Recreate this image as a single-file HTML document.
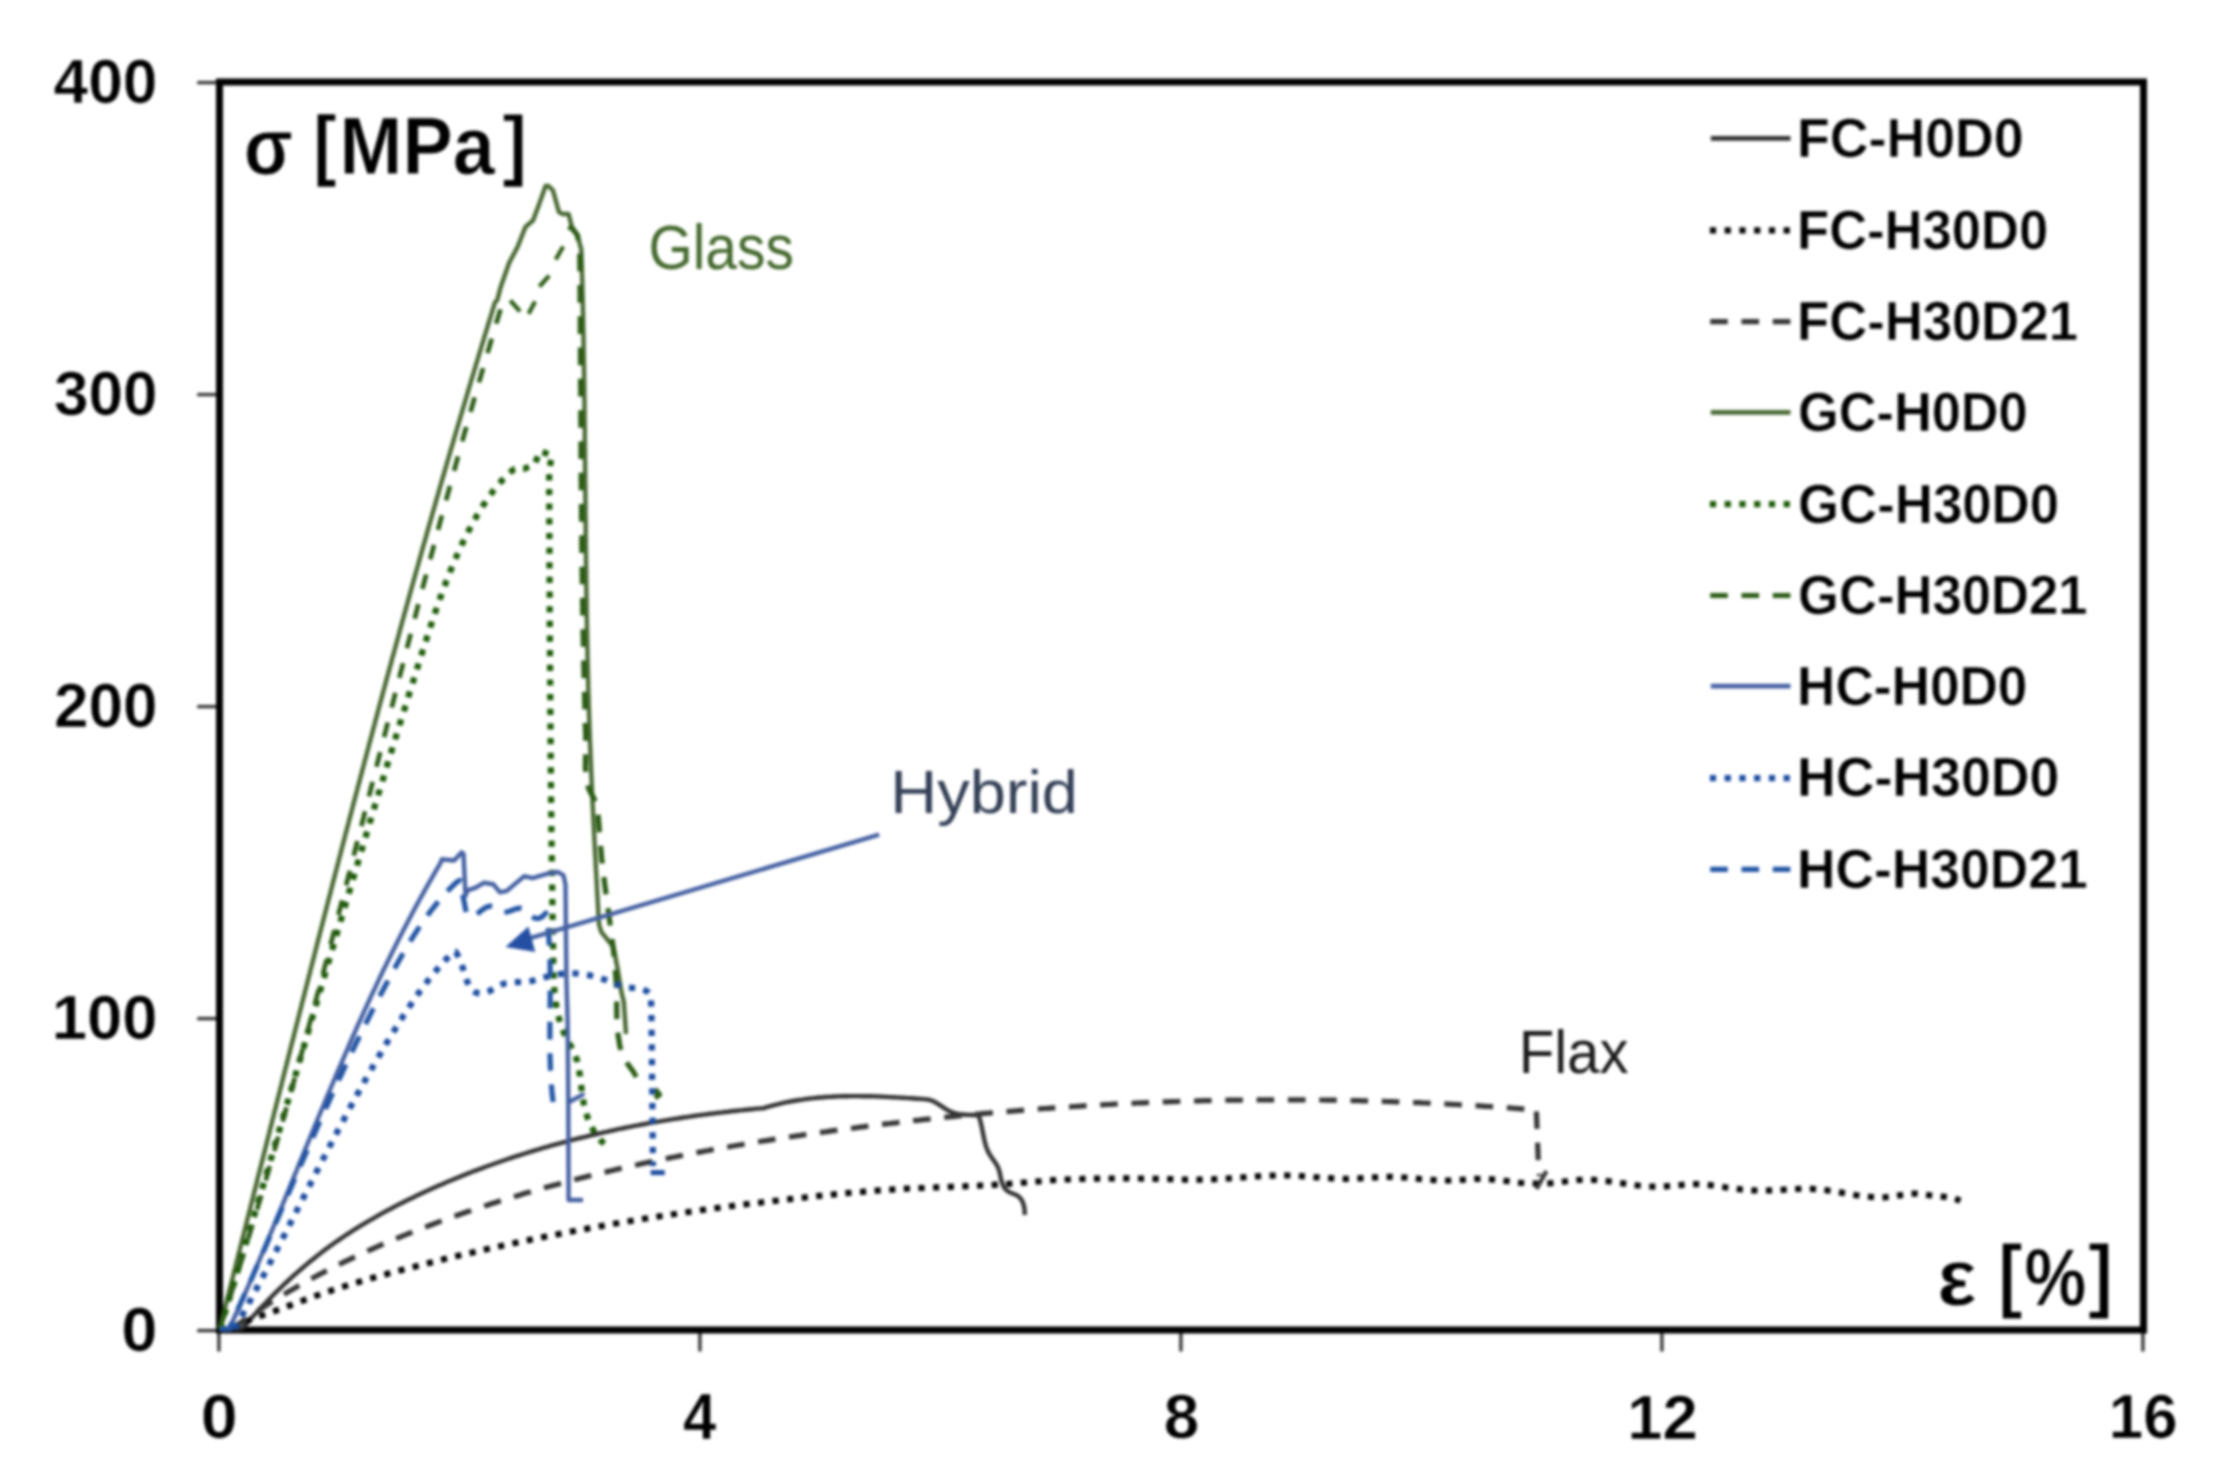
<!DOCTYPE html>
<html lang="en"><head><meta charset="utf-8"><title>Stress-strain curves</title>
<style>
html,body{margin:0;padding:0;background:#fff;}
body{width:2220px;height:1482px;overflow:hidden;}
svg{display:block;filter:blur(1.7px);}
</style></head><body>
<svg width="2220" height="1482" viewBox="0 0 2220 1482">
<rect width="2220" height="1482" fill="#fff"/>
<g stroke="#000" fill="none">
<line x1="197.2" y1="1330.6" x2="219.5" y2="1330.6" stroke-width="3.4" stroke="#3a3a3a"/>
<line x1="197.2" y1="1018.6" x2="219.5" y2="1018.6" stroke-width="3.4" stroke="#3a3a3a"/>
<line x1="197.2" y1="706.6" x2="219.5" y2="706.6" stroke-width="3.4" stroke="#3a3a3a"/>
<line x1="197.2" y1="394.6" x2="219.5" y2="394.6" stroke-width="3.4" stroke="#3a3a3a"/>
<line x1="197.2" y1="82.6" x2="219.5" y2="82.6" stroke-width="3.4" stroke="#3a3a3a"/>
<line x1="218.9" y1="1330.0" x2="218.9" y2="1351.5" stroke-width="3.4" stroke="#3a3a3a"/>
<line x1="699.9" y1="1330.0" x2="699.9" y2="1351.5" stroke-width="3.4" stroke="#3a3a3a"/>
<line x1="1180.9" y1="1330.0" x2="1180.9" y2="1351.5" stroke-width="3.4" stroke="#3a3a3a"/>
<line x1="1661.9" y1="1330.0" x2="1661.9" y2="1351.5" stroke-width="3.4" stroke="#3a3a3a"/>
<line x1="2142.9" y1="1330.0" x2="2142.9" y2="1351.5" stroke-width="3.4" stroke="#3a3a3a"/>
<rect x="219.5" y="82.0" width="1924.0" height="1248.0" stroke-width="7.0"/>
</g>
<g fill="none" stroke-linejoin="round" stroke-linecap="butt">
<path d="M219.6,1329.0L240.0,1329.0L242.9,1327.8L244.9,1325.5L246.9,1323.2L248.9,1321.0L250.9,1318.7L252.9,1316.4L255.0,1314.2L257.0,1312.0L259.1,1309.7L261.1,1307.5L263.2,1305.3L265.3,1303.2L267.4,1301.0L269.5,1298.8L271.6,1296.7L273.7,1294.5L275.8,1292.4L278.0,1290.3L280.2,1288.2L282.3,1286.1L284.5,1284.0L286.7,1282.0L288.9,1280.0L291.1,1277.9L293.3,1275.9L295.6,1273.9L297.8,1271.9L300.1,1270.0L302.4,1268.0L304.6,1266.1L306.9,1264.1L309.2,1262.2L311.6,1260.3L313.9,1258.5L316.2,1256.6L318.6,1254.8L321.0,1252.9L323.3,1251.1L325.7,1249.3L328.1,1247.5L330.5,1245.8L333.0,1244.0L335.4,1242.3L337.9,1240.6L340.3,1238.9L342.8,1237.2L345.3,1235.5L347.8,1233.9L350.3,1232.3L352.8,1230.6L355.3,1229.0L357.9,1227.5L360.4,1225.9L363.0,1224.3L365.5,1222.8L368.1,1221.3L370.7,1219.8L373.3,1218.3L375.9,1216.8L378.5,1215.3L381.1,1213.9L383.8,1212.4L386.4,1211.0L389.0,1209.6L391.7,1208.2L394.4,1206.8L397.0,1205.4L399.7,1204.0L402.4,1202.7L405.1,1201.3L407.8,1200.0L410.4,1198.7L413.2,1197.4L415.9,1196.1L418.6,1194.8L421.3,1193.5L424.0,1192.2L426.7,1191.0L429.5,1189.7L432.2,1188.5L435.0,1187.3L437.7,1186.1L440.5,1184.9L443.2,1183.7L446.0,1182.5L448.7,1181.3L451.5,1180.2L454.3,1179.0L457.1,1177.9L459.9,1176.7L462.7,1175.6L465.4,1174.5L468.2,1173.4L471.0,1172.3L473.8,1171.2L476.7,1170.2L479.5,1169.1L482.3,1168.1L485.1,1167.0L487.9,1166.0L490.8,1165.0L493.6,1164.0L496.4,1163.0L499.3,1162.0L502.1,1161.0L505.0,1160.0L507.8,1159.0L510.7,1158.1L513.5,1157.1L516.4,1156.2L519.3,1155.3L522.1,1154.4L525.0,1153.5L527.9,1152.6L530.8,1151.7L533.6,1150.8L536.5,1149.9L539.4,1149.1L542.3,1148.2L545.2,1147.4L548.1,1146.6L551.0,1145.7L553.9,1144.9L556.8,1144.1L559.7,1143.3L562.6,1142.5L565.5,1141.8L568.4,1141.0L571.3,1140.2L574.3,1139.5L577.2,1138.7L580.1,1138.0L583.0,1137.3L586.0,1136.6L588.9,1135.8L591.8,1135.1L594.8,1134.5L597.7,1133.8L600.6,1133.1L603.6,1132.4L606.5,1131.8L609.5,1131.1L612.4,1130.5L615.3,1129.9L618.3,1129.2L621.2,1128.6L624.2,1128.0L627.1,1127.4L630.1,1126.8L633.1,1126.2L636.0,1125.7L639.0,1125.1L641.9,1124.5L644.9,1124.0L647.8,1123.4L650.8,1122.9L653.8,1122.4L656.7,1121.9L659.7,1121.4L662.7,1120.9L665.6,1120.4L668.6,1119.9L671.6,1119.4L674.5,1118.9L677.5,1118.5L680.5,1118.0L683.4,1117.5L686.4,1117.1L689.4,1116.7L692.4,1116.2L695.3,1115.8L698.3,1115.4L701.3,1115.0L704.2,1114.6L707.2,1114.2L710.2,1113.8L713.2,1113.5L716.1,1113.1L719.1,1112.7L722.1,1112.4L725.0,1112.0L728.0,1111.7L731.0,1111.3L734.0,1111.0L736.9,1110.7L739.9,1110.4L742.9,1110.1L745.8,1109.8L748.8,1109.5L751.8,1109.2L754.7,1108.9L757.7,1108.6L760.7,1108.4L763.8,1108.2L766.7,1107.2L769.6,1106.3L772.5,1105.5L775.5,1104.8L778.4,1104.1L781.4,1103.4L784.3,1102.7L787.3,1102.1L790.2,1101.5L793.2,1101.0L796.2,1100.5L799.2,1100.0L802.2,1099.6L805.2,1099.1L808.2,1098.8L811.2,1098.4L814.2,1098.1L817.2,1097.8L820.2,1097.5L823.2,1097.3L826.2,1097.0L829.2,1096.9L832.3,1096.7L835.3,1096.5L838.3,1096.4L841.4,1096.3L844.4,1096.2L847.4,1096.2L850.5,1096.1L853.5,1096.1L856.5,1096.1L859.6,1096.1L862.6,1096.2L865.7,1096.2L868.7,1096.3L871.7,1096.3L874.8,1096.4L877.8,1096.5L880.9,1096.6L883.9,1096.8L886.9,1096.9L890.0,1097.1L893.0,1097.2L896.0,1097.4L899.1,1097.6L902.1,1097.7L905.1,1097.9L908.1,1098.1L911.1,1098.3L914.2,1098.5L917.2,1098.7L920.2,1098.9L923.2,1099.1L926.2,1099.4L929.2,1099.7L932.1,1100.8L934.9,1102.1L937.6,1103.7L940.2,1105.4L942.9,1107.1L945.5,1108.8L948.1,1110.4L950.9,1111.7L953.7,1112.8L956.7,1113.6L959.7,1114.2L962.8,1114.5L965.9,1114.8L969.1,1114.9L972.2,1115.0L975.3,1115.0L978.4,1115.2L979.4,1118.0L980.3,1120.8L981.0,1123.7L981.7,1126.7L982.3,1129.7L982.9,1132.8L983.5,1135.8L984.1,1138.8L984.8,1141.8L985.6,1144.8L986.5,1147.7L987.6,1150.5L988.9,1153.2L990.4,1155.7L992.2,1158.2L993.9,1160.7L995.7,1163.2L997.2,1165.8L998.5,1168.5L999.4,1171.4L1000.1,1174.4L1000.7,1177.5L1001.4,1180.5L1002.3,1183.4L1003.5,1186.2L1005.1,1188.7L1007.1,1190.7L1009.6,1192.3L1012.4,1193.5L1015.2,1194.5L1017.8,1195.9L1020.0,1197.7L1021.7,1200.1L1023.0,1202.8L1023.9,1205.8L1024.5,1208.9L1024.7,1212.1L1024.7,1215.1" stroke="#313131" stroke-width="4.4"/>
<path d="M233.0,1329.0L235.5,1327.3L238.1,1325.7L240.7,1324.2L243.4,1322.8L246.1,1321.6L248.8,1320.3L251.6,1319.2L254.4,1318.1L257.2,1317.1L260.0,1316.1L262.9,1315.1L265.7,1314.1L268.6,1313.2L271.4,1312.2L274.3,1311.2L277.1,1310.2L279.9,1309.2L282.7,1308.1L285.6,1307.1L288.4,1306.0L291.2,1305.0L294.0,1303.9L296.8,1302.9L299.6,1301.8L302.4,1300.8L305.2,1299.7L308.1,1298.7L310.9,1297.7L313.7,1296.6L316.5,1295.6L319.4,1294.6L322.2,1293.7L325.1,1292.7L327.9,1291.7L330.7,1290.8L333.6,1289.8L336.5,1288.9L339.3,1287.9L342.2,1287.0L345.0,1286.1L347.9,1285.2L350.8,1284.3L353.6,1283.4L356.5,1282.6L359.4,1281.7L362.3,1280.9L365.2,1280.0L368.1,1279.2L370.9,1278.4L373.8,1277.6L376.7,1276.8L379.6,1276.0L382.5,1275.2L385.4,1274.4L388.3,1273.6L391.2,1272.8L394.1,1272.0L397.0,1271.3L399.9,1270.5L402.8,1269.7L405.7,1269.0L408.6,1268.2L411.5,1267.4L414.5,1266.7L417.4,1265.9L420.3,1265.2L423.2,1264.4L426.1,1263.7L429.0,1263.0L431.9,1262.2L434.8,1261.5L437.8,1260.8L440.7,1260.1L443.6,1259.3L446.5,1258.6L449.4,1257.9L452.3,1257.2L455.3,1256.5L458.2,1255.8L461.1,1255.1L464.0,1254.4L467.0,1253.7L469.9,1253.1L472.8,1252.4L475.7,1251.7L478.7,1251.0L481.6,1250.4L484.5,1249.7L487.5,1249.0L490.4,1248.4L493.3,1247.7L496.2,1247.1L499.2,1246.4L502.1,1245.8L505.1,1245.1L508.0,1244.5L510.9,1243.8L513.9,1243.2L516.8,1242.6L519.7,1242.0L522.7,1241.3L525.6,1240.7L528.6,1240.1L531.5,1239.5L534.4,1238.9L537.4,1238.3L540.3,1237.7L543.3,1237.1L546.2,1236.5L549.2,1235.9L552.1,1235.3L555.1,1234.7L558.0,1234.2L561.0,1233.6L563.9,1233.0L566.9,1232.4L569.8,1231.9L572.8,1231.3L575.7,1230.8L578.7,1230.2L581.6,1229.6L584.6,1229.1L587.5,1228.6L590.5,1228.0L593.4,1227.5L596.4,1226.9L599.4,1226.4L602.3,1225.9L605.3,1225.4L608.2,1224.8L611.2,1224.3L614.1,1223.8L617.1,1223.3L620.1,1222.8L623.0,1222.3L626.0,1221.8L629.0,1221.3L631.9,1220.8L634.9,1220.3L637.8,1219.8L640.8,1219.3L643.8,1218.8L646.7,1218.4L649.7,1217.9L652.7,1217.4L655.6,1217.0L658.6,1216.5L661.6,1216.0L664.6,1215.6L667.5,1215.1L670.5,1214.7L673.5,1214.2L676.4,1213.8L679.4,1213.3L682.4,1212.9L685.3,1212.5L688.3,1212.0L691.3,1211.6L694.3,1211.2L697.2,1210.8L700.2,1210.3L703.2,1209.9L706.2,1209.5L709.1,1209.1L712.1,1208.7L715.1,1208.3L718.1,1207.9L721.0,1207.5L724.0,1207.1L727.0,1206.7L730.0,1206.3L733.0,1205.9L735.9,1205.5L738.9,1205.2L741.9,1204.8L744.9,1204.4L747.9,1204.0L750.8,1203.7L753.8,1203.3L756.8,1202.9L759.8,1202.6L762.8,1202.2L765.8,1201.9L768.7,1201.5L771.7,1201.2L774.7,1200.8L777.7,1200.5L780.7,1200.1L783.7,1199.8L786.6,1199.4L789.6,1199.1L792.6,1198.8L795.6,1198.5L798.6,1198.1L801.6,1197.8L804.6,1197.5L807.5,1197.2L810.5,1196.8L813.5,1196.5L816.5,1196.2L819.5,1195.9L822.5,1195.6L825.5,1195.3L828.5,1195.0L831.5,1194.7L834.4,1194.4L837.4,1194.1L840.4,1193.8L843.4,1193.5L846.4,1193.2L849.4,1192.9L852.4,1192.7L855.4,1192.4L858.4,1192.1L861.4,1191.9L864.4,1191.6L867.4,1191.3L870.4,1191.1L873.3,1190.9L876.3,1190.6L879.3,1190.4L882.3,1190.2L885.3,1190.0L888.3,1189.8L891.3,1189.6L894.3,1189.4L897.3,1189.2L900.3,1189.0L903.3,1188.9L906.3,1188.7L909.3,1188.5L912.3,1188.4L915.3,1188.3L918.3,1188.1L921.3,1188.0L924.3,1187.9L927.3,1187.7L930.3,1187.6L933.3,1187.5L936.3,1187.4L939.3,1187.3L942.3,1187.2L945.3,1187.1L948.3,1186.9L951.3,1186.8L954.4,1186.7L957.4,1186.6L960.4,1186.5L963.4,1186.4L966.4,1186.2L969.4,1186.1L972.4,1186.0L975.4,1185.8L978.4,1185.7L981.4,1185.5L984.4,1185.4L987.4,1185.2L990.4,1185.1L993.4,1184.9L996.4,1184.7L999.4,1184.5L1002.4,1184.3L1005.4,1184.1L1008.3,1183.9L1011.3,1183.6L1014.3,1183.4L1017.3,1183.1L1020.3,1182.9L1023.3,1182.6L1026.3,1182.4L1029.3,1182.1L1032.3,1181.8L1035.3,1181.6L1038.3,1181.3L1041.3,1181.1L1044.3,1180.8L1047.3,1180.6L1050.3,1180.4L1053.3,1180.2L1056.3,1180.0L1059.3,1179.8L1062.3,1179.7L1065.3,1179.5L1068.3,1179.4L1071.3,1179.2L1074.3,1179.1L1077.3,1179.0L1080.3,1179.0L1083.3,1178.9L1086.3,1178.8L1089.3,1178.7L1092.3,1178.7L1095.3,1178.6L1098.3,1178.6L1101.3,1178.6L1104.3,1178.5L1107.3,1178.5L1110.3,1178.5L1113.3,1178.5L1116.3,1178.4L1119.3,1178.4L1122.3,1178.4L1125.3,1178.4L1128.3,1178.4L1131.3,1178.5L1134.4,1178.5L1137.4,1178.5L1140.4,1178.5L1143.4,1178.6L1146.4,1178.6L1149.4,1178.7L1152.4,1178.7L1155.4,1178.8L1158.4,1178.8L1161.4,1178.9L1164.4,1179.0L1167.4,1179.0L1170.4,1179.1L1173.4,1179.2L1176.4,1179.3L1179.4,1179.4L1182.4,1179.5L1185.4,1179.6L1188.4,1179.6L1191.4,1179.7L1194.4,1179.7L1197.4,1179.7L1200.4,1179.7L1203.4,1179.7L1206.4,1179.6L1209.4,1179.5L1212.4,1179.4L1215.4,1179.2L1218.4,1179.1L1221.4,1178.9L1224.4,1178.7L1227.4,1178.5L1230.4,1178.3L1233.4,1178.1L1236.4,1177.8L1239.4,1177.6L1242.4,1177.4L1245.4,1177.2L1248.4,1176.9L1251.4,1176.7L1254.4,1176.5L1257.4,1176.3L1260.4,1176.1L1263.4,1175.9L1266.4,1175.8L1269.4,1175.7L1272.4,1175.6L1275.4,1175.5L1278.4,1175.4L1281.4,1175.4L1284.4,1175.4L1287.4,1175.5L1290.4,1175.5L1293.4,1175.6L1296.4,1175.8L1299.4,1176.0L1302.4,1176.2L1305.4,1176.4L1308.4,1176.6L1311.4,1176.8L1314.4,1177.1L1317.4,1177.3L1320.4,1177.6L1323.4,1177.8L1326.4,1178.0L1329.4,1178.2L1332.4,1178.4L1335.4,1178.5L1338.4,1178.6L1341.4,1178.7L1344.4,1178.8L1347.4,1178.8L1350.4,1178.7L1353.4,1178.6L1356.4,1178.5L1359.4,1178.4L1362.5,1178.2L1365.5,1178.0L1368.5,1177.8L1371.5,1177.6L1374.5,1177.4L1377.5,1177.3L1380.5,1177.1L1383.5,1177.0L1386.5,1176.9L1389.5,1176.9L1392.5,1176.9L1395.5,1177.0L1398.5,1177.1L1401.5,1177.3L1404.5,1177.5L1407.5,1177.7L1410.5,1178.0L1413.5,1178.3L1416.4,1178.6L1419.4,1178.9L1422.4,1179.1L1425.4,1179.4L1428.4,1179.7L1431.4,1179.9L1434.4,1180.1L1437.4,1180.3L1440.4,1180.4L1443.4,1180.5L1446.4,1180.5L1449.4,1180.5L1452.4,1180.4L1455.4,1180.3L1458.4,1180.0L1461.4,1179.8L1464.4,1179.6L1467.4,1179.3L1470.4,1179.1L1473.4,1179.0L1476.4,1178.8L1479.4,1178.8L1482.4,1178.8L1485.4,1178.9L1488.4,1179.1L1491.4,1179.3L1494.4,1179.6L1497.4,1179.9L1500.3,1180.3L1503.3,1180.6L1506.3,1181.0L1509.3,1181.4L1512.3,1181.8L1515.3,1182.1L1518.3,1182.5L1521.3,1182.8L1524.3,1183.0L1527.3,1183.2L1530.3,1183.4L1533.3,1183.5L1536.3,1183.6L1539.3,1183.6L1542.3,1183.6L1545.3,1183.5L1548.3,1183.3L1551.3,1183.1L1554.3,1182.8L1557.3,1182.5L1560.3,1182.1L1563.3,1181.7L1566.3,1181.3L1569.3,1180.9L1572.3,1180.6L1575.2,1180.3L1578.2,1180.0L1581.2,1179.8L1584.2,1179.7L1587.2,1179.6L1590.2,1179.7L1593.2,1179.8L1596.1,1180.0L1599.1,1180.2L1602.1,1180.5L1605.1,1180.9L1608.1,1181.2L1611.1,1181.6L1614.1,1182.1L1617.1,1182.5L1620.1,1183.0L1623.1,1183.4L1626.1,1183.9L1629.0,1184.3L1632.0,1184.7L1635.0,1185.1L1638.0,1185.5L1641.0,1185.8L1644.0,1186.1L1647.0,1186.3L1650.0,1186.5L1653.0,1186.6L1656.0,1186.6L1659.0,1186.6L1662.0,1186.5L1665.0,1186.3L1668.0,1186.1L1671.0,1185.9L1674.0,1185.6L1677.0,1185.3L1680.0,1185.1L1683.0,1184.8L1686.0,1184.6L1689.0,1184.4L1692.0,1184.3L1695.0,1184.2L1698.0,1184.2L1701.0,1184.3L1704.0,1184.5L1706.9,1184.8L1709.9,1185.1L1712.9,1185.5L1715.9,1185.9L1718.9,1186.3L1721.9,1186.7L1724.8,1187.2L1727.8,1187.7L1730.8,1188.1L1733.8,1188.5L1736.8,1188.9L1739.8,1189.2L1742.8,1189.6L1745.7,1189.8L1748.7,1190.1L1751.7,1190.3L1754.7,1190.4L1757.7,1190.5L1760.7,1190.6L1763.7,1190.6L1766.7,1190.5L1769.7,1190.4L1772.7,1190.3L1775.7,1190.1L1778.7,1190.0L1781.7,1189.8L1784.7,1189.6L1787.7,1189.5L1790.7,1189.3L1793.7,1189.2L1796.7,1189.0L1799.7,1188.9L1802.7,1188.9L1805.7,1188.8L1808.7,1188.9L1811.7,1188.9L1814.6,1189.1L1817.6,1189.3L1820.6,1189.5L1823.6,1189.9L1826.6,1190.2L1829.6,1190.7L1832.6,1191.1L1835.6,1191.6L1838.6,1192.1L1841.5,1192.6L1844.5,1193.2L1847.5,1193.7L1850.5,1194.2L1853.5,1194.7L1856.4,1195.2L1859.4,1195.6L1862.4,1196.1L1865.4,1196.4L1868.4,1196.7L1871.3,1197.0L1874.3,1197.2L1877.3,1197.3L1880.3,1197.4L1883.3,1197.3L1886.2,1197.2L1889.2,1196.9L1892.2,1196.6L1895.2,1196.1L1898.1,1195.6L1901.1,1195.1L1904.1,1194.7L1907.1,1194.2L1910.0,1193.9L1913.0,1193.7L1916.0,1193.6L1919.0,1193.8L1922.0,1194.1L1924.9,1194.5L1927.9,1195.0L1930.9,1195.5L1933.9,1195.9L1936.9,1196.2L1939.9,1196.5L1942.9,1196.7L1945.9,1197.0L1948.8,1197.4L1951.7,1197.9L1954.6,1198.6L1957.5,1199.6L1960.3,1200.9" stroke="#050505" stroke-width="6.2" stroke-dasharray="6.2 8.45"/>
<path d="M232.0,1329.0L234.2,1327.2L236.7,1325.4L239.2,1323.7L241.6,1321.9L244.1,1320.2L246.6,1318.4L249.1,1316.7L251.6,1315.0L254.1,1313.3L256.6,1311.6L259.1,1310.0L261.6,1308.3L264.1,1306.7L266.7,1305.1L269.2,1303.4L271.8,1301.8L274.3,1300.2L276.9,1298.7L279.4,1297.1L282.0,1295.5L284.6,1294.0L287.2,1292.5L289.8,1290.9L292.4,1289.4L295.0,1287.9L297.6,1286.4L300.2,1285.0L302.8,1283.5L305.4,1282.0L308.0,1280.6L310.7,1279.1L313.3,1277.7L316.0,1276.3L318.6,1274.9L321.3,1273.5L323.9,1272.1L326.6,1270.7L329.2,1269.4L331.9,1268.0L334.6,1266.7L337.3,1265.3L340.0,1264.0L342.7,1262.7L345.4,1261.4L348.0,1260.1L350.8,1258.8L353.5,1257.5L356.2,1256.3L358.9,1255.0L361.6,1253.7L364.3,1252.5L367.1,1251.3L369.8,1250.0L372.5,1248.8L375.3,1247.6L378.0,1246.4L380.7,1245.2L383.5,1244.0L386.2,1242.9L389.0,1241.7L391.8,1240.5L394.5,1239.4L397.3,1238.2L400.0,1237.1L402.8,1235.9L405.6,1234.8L408.4,1233.7L411.1,1232.6L413.9,1231.5L416.7,1230.4L419.5,1229.3L422.3,1228.2L425.1,1227.1L427.9,1226.1L430.7,1225.0L433.5,1224.0L436.3,1222.9L439.1,1221.9L441.9,1220.8L444.7,1219.8L447.5,1218.8L450.3,1217.8L453.1,1216.8L455.9,1215.8L458.8,1214.8L461.6,1213.8L464.4,1212.8L467.2,1211.8L470.1,1210.9L472.9,1209.9L475.7,1208.9L478.6,1208.0L481.4,1207.0L484.2,1206.1L487.1,1205.2L489.9,1204.3L492.8,1203.3L495.6,1202.4L498.5,1201.5L501.3,1200.6L504.2,1199.7L507.1,1198.8L509.9,1198.0L512.8,1197.1L515.6,1196.2L518.5,1195.4L521.4,1194.5L524.2,1193.6L527.1,1192.8L530.0,1192.0L532.9,1191.1L535.7,1190.3L538.6,1189.5L541.5,1188.7L544.4,1187.8L547.3,1187.0L550.2,1186.2L553.0,1185.4L555.9,1184.7L558.8,1183.9L561.7,1183.1L564.6,1182.3L567.5,1181.5L570.4,1180.8L573.3,1180.0L576.2,1179.3L579.1,1178.5L582.0,1177.8L584.9,1177.1L587.9,1176.3L590.8,1175.6L593.7,1174.9L596.6,1174.2L599.5,1173.5L602.4,1172.8L605.3,1172.1L608.3,1171.4L611.2,1170.7L614.1,1170.0L617.0,1169.3L620.0,1168.6L622.9,1168.0L625.8,1167.3L628.7,1166.6L631.7,1166.0L634.6,1165.3L637.5,1164.7L640.5,1164.0L643.4,1163.4L646.3,1162.8L649.3,1162.1L652.2,1161.5L655.2,1160.9L658.1,1160.3L661.0,1159.7L664.0,1159.1L666.9,1158.5L669.9,1157.9L672.8,1157.3L675.8,1156.7L678.7,1156.1L681.7,1155.5L684.6,1154.9L687.6,1154.4L690.5,1153.8L693.5,1153.2L696.4,1152.7L699.4,1152.1L702.4,1151.6L705.3,1151.0L708.3,1150.5L711.2,1149.9L714.2,1149.4L717.2,1148.9L720.1,1148.3L723.1,1147.8L726.0,1147.3L729.0,1146.8L732.0,1146.2L734.9,1145.7L737.9,1145.2L740.9,1144.7L743.8,1144.2L746.8,1143.7L749.8,1143.2L752.8,1142.7L755.7,1142.3L758.7,1141.8L761.7,1141.3L764.6,1140.8L767.6,1140.4L770.6,1139.9L773.6,1139.4L776.5,1139.0L779.5,1138.5L782.5,1138.0L785.5,1137.6L788.4,1137.1L791.4,1136.7L794.4,1136.2L797.4,1135.8L800.3,1135.4L803.3,1134.9L806.3,1134.5L809.3,1134.1L812.2,1133.6L815.2,1133.2L818.2,1132.8L821.2,1132.4L824.2,1132.0L827.1,1131.6L830.1,1131.1L833.1,1130.7L836.1,1130.3L839.1,1129.9L842.0,1129.5L845.0,1129.1L848.0,1128.7L851.0,1128.3L854.0,1128.0L856.9,1127.6L859.9,1127.2L862.9,1126.8L865.9,1126.4L868.9,1126.0L871.8,1125.7L874.8,1125.3L877.8,1124.9L880.8,1124.6L883.8,1124.2L886.8,1123.8L889.7,1123.5L892.7,1123.1L895.7,1122.8L898.7,1122.4L901.7,1122.1L904.6,1121.7L907.6,1121.4L910.6,1121.1L913.6,1120.7L916.6,1120.4L919.6,1120.1L922.5,1119.7L925.5,1119.4L928.5,1119.1L931.5,1118.8L934.5,1118.4L937.5,1118.1L940.4,1117.8L943.4,1117.5L946.4,1117.2L949.4,1116.9L952.4,1116.6L955.4,1116.3L958.3,1116.0L961.3,1115.7L964.3,1115.4L967.3,1115.1L970.3,1114.8L973.3,1114.5L976.3,1114.2L979.2,1114.0L982.2,1113.7L985.2,1113.4L988.2,1113.2L991.2,1112.9L994.2,1112.6L997.2,1112.4L1000.1,1112.1L1003.1,1111.8L1006.1,1111.6L1009.1,1111.3L1012.1,1111.1L1015.1,1110.8L1018.1,1110.6L1021.0,1110.3L1024.0,1110.1L1027.0,1109.9L1030.0,1109.6L1033.0,1109.4L1036.0,1109.2L1039.0,1109.0L1042.0,1108.7L1044.9,1108.5L1047.9,1108.3L1050.9,1108.1L1053.9,1107.9L1056.9,1107.7L1059.9,1107.5L1062.9,1107.2L1065.9,1107.0L1068.8,1106.8L1071.8,1106.7L1074.8,1106.5L1077.8,1106.3L1080.8,1106.1L1083.8,1105.9L1086.8,1105.7L1089.8,1105.5L1092.8,1105.4L1095.7,1105.2L1098.7,1105.0L1101.7,1104.8L1104.7,1104.7L1107.7,1104.5L1110.7,1104.4L1113.7,1104.2L1116.7,1104.0L1119.7,1103.9L1122.7,1103.7L1125.7,1103.6L1128.6,1103.5L1131.6,1103.3L1134.6,1103.2L1137.6,1103.0L1140.6,1102.9L1143.6,1102.8L1146.6,1102.6L1149.6,1102.5L1152.6,1102.4L1155.6,1102.3L1158.6,1102.2L1161.5,1102.0L1164.5,1101.9L1167.5,1101.8L1170.5,1101.7L1173.5,1101.6L1176.5,1101.5L1179.5,1101.4L1182.5,1101.3L1185.5,1101.2L1188.5,1101.1L1191.5,1101.1L1194.5,1101.0L1197.5,1100.9L1200.5,1100.8L1203.4,1100.7L1206.4,1100.7L1209.4,1100.6L1212.4,1100.5L1215.4,1100.5L1218.4,1100.4L1221.4,1100.4L1224.4,1100.3L1227.4,1100.2L1230.4,1100.2L1233.4,1100.1L1236.4,1100.1L1239.4,1100.1L1242.4,1100.0L1245.4,1100.0L1248.4,1100.0L1251.4,1099.9L1254.4,1099.9L1257.4,1099.9L1260.4,1099.8L1263.3,1099.8L1266.3,1099.8L1269.3,1099.8L1272.3,1099.8L1275.3,1099.8L1278.3,1099.8L1281.3,1099.8L1284.3,1099.8L1287.3,1099.8L1290.3,1099.8L1293.3,1099.8L1296.3,1099.8L1299.3,1099.8L1302.3,1099.8L1305.3,1099.9L1308.3,1099.9L1311.3,1099.9L1314.3,1099.9L1317.3,1100.0L1320.3,1100.0L1323.3,1100.0L1326.3,1100.1L1329.3,1100.1L1332.3,1100.2L1335.3,1100.2L1338.3,1100.3L1341.3,1100.3L1344.3,1100.4L1347.3,1100.4L1350.3,1100.5L1353.3,1100.6L1356.3,1100.6L1359.3,1100.7L1362.3,1100.8L1365.3,1100.9L1368.3,1100.9L1371.3,1101.0L1374.3,1101.1L1377.3,1101.2L1380.3,1101.3L1383.3,1101.4L1386.3,1101.5L1389.3,1101.6L1392.3,1101.7L1395.3,1101.8L1398.3,1101.9L1401.3,1102.0L1404.3,1102.1L1407.3,1102.2L1410.3,1102.4L1413.3,1102.5L1416.3,1102.6L1419.3,1102.7L1422.3,1102.9L1425.3,1103.0L1428.3,1103.1L1431.3,1103.3L1434.3,1103.4L1437.3,1103.6L1440.3,1103.7L1443.3,1103.9L1446.3,1104.0L1449.3,1104.2L1452.3,1104.3L1455.3,1104.5L1458.3,1104.7L1461.3,1104.8L1464.4,1105.0L1467.4,1105.2L1470.4,1105.4L1473.4,1105.5L1476.4,1105.7L1479.4,1105.9L1482.4,1106.1L1485.4,1106.3L1488.4,1106.5L1491.4,1106.7L1494.4,1106.9L1497.4,1107.1L1500.4,1107.3L1503.4,1107.5L1506.4,1107.7L1509.4,1107.9L1512.4,1108.2L1515.4,1108.4L1518.4,1108.6L1521.5,1108.8L1524.5,1109.1L1527.5,1109.3L1530.5,1109.5L1533.5,1109.8L1536.3,1109.6L1538.2,1158.4L1539.5,1176.0" stroke="#353535" stroke-width="5.2" stroke-dasharray="17.6 13.7"/>
<path d="M1536.5,1189L1546.5,1171" stroke="#353535" stroke-width="4.2"/>
<path d="M219.6,1329.0L220.4,1326.1L221.2,1323.2L221.9,1320.3L222.6,1317.4L223.4,1314.5L224.1,1311.5L224.9,1308.6L225.6,1305.7L226.3,1302.8L227.1,1299.9L227.8,1297.0L228.5,1294.1L229.3,1291.2L230.0,1288.3L230.8,1285.4L231.5,1282.4L232.2,1279.5L233.0,1276.6L233.7,1273.7L234.4,1270.8L235.2,1267.9L235.9,1265.0L236.6,1262.1L237.4,1259.2L238.1,1256.2L238.8,1253.3L239.6,1250.4L240.3,1247.5L241.0,1244.6L241.8,1241.7L242.5,1238.8L243.3,1235.9L244.0,1233.0L244.7,1230.0L245.5,1227.1L246.2,1224.2L246.9,1221.3L247.7,1218.4L248.4,1215.5L249.1,1212.6L249.9,1209.7L250.6,1206.8L251.3,1203.8L252.1,1200.9L252.8,1198.0L253.5,1195.1L254.3,1192.2L255.0,1189.3L255.7,1186.4L256.5,1183.5L257.2,1180.6L257.9,1177.6L258.7,1174.7L259.4,1171.8L260.1,1168.9L260.9,1166.0L261.6,1163.1L262.4,1160.2L263.1,1157.3L263.8,1154.3L264.6,1151.4L265.3,1148.5L266.0,1145.6L266.8,1142.7L267.5,1139.8L268.2,1136.9L269.0,1134.0L269.7,1131.0L270.4,1128.1L271.2,1125.2L271.9,1122.3L272.6,1119.4L273.4,1116.5L274.1,1113.6L274.8,1110.7L275.6,1107.8L276.3,1104.8L277.1,1101.9L277.8,1099.0L278.5,1096.1L279.3,1093.2L280.0,1090.3L280.7,1087.4L281.5,1084.5L282.2,1081.5L282.9,1078.6L283.7,1075.7L284.4,1072.8L285.1,1069.9L285.9,1067.0L286.6,1064.1L287.4,1061.2L288.1,1058.3L288.8,1055.3L289.6,1052.4L290.3,1049.5L291.0,1046.6L291.8,1043.7L292.5,1040.8L293.3,1037.9L294.0,1035.0L294.7,1032.0L295.5,1029.1L296.2,1026.2L297.0,1023.3L297.7,1020.4L298.4,1017.5L299.2,1014.6L299.9,1011.7L300.7,1008.8L301.4,1005.8L302.1,1002.9L302.9,1000.0L303.6,997.1L304.4,994.2L305.1,991.3L305.8,988.4L306.6,985.5L307.3,982.6L308.1,979.6L308.8,976.7L309.6,973.8L310.3,970.9L311.0,968.0L311.8,965.1L312.5,962.2L313.3,959.3L314.0,956.4L314.8,953.5L315.5,950.5L316.3,947.6L317.0,944.7L317.7,941.8L318.5,938.9L319.2,936.0L320.0,933.1L320.7,930.2L321.5,927.3L322.2,924.4L323.0,921.4L323.7,918.5L324.5,915.6L325.2,912.7L326.0,909.8L326.7,906.9L327.5,904.0L328.2,901.1L329.0,898.2L329.7,895.3L330.5,892.4L331.2,889.4L332.0,886.5L332.7,883.6L333.5,880.7L334.2,877.8L335.0,874.9L335.7,872.0L336.5,869.1L337.2,866.2L338.0,863.3L338.7,860.4L339.5,857.5L340.3,854.6L341.0,851.6L341.8,848.7L342.5,845.8L343.3,842.9L344.0,840.0L344.8,837.1L345.5,834.2L346.3,831.3L347.1,828.4L347.8,825.5L348.6,822.6L349.3,819.7L350.1,816.8L350.9,813.9L351.6,811.0L352.4,808.1L353.1,805.1L353.9,802.2L354.7,799.3L355.4,796.4L356.2,793.5L357.0,790.6L357.7,787.7L358.5,784.8L359.3,781.9L360.0,779.0L360.8,776.1L361.6,773.2L362.3,770.3L363.1,767.4L363.9,764.5L364.6,761.6L365.4,758.7L366.2,755.8L366.9,752.9L367.7,750.0L368.5,747.1L369.2,744.2L370.0,741.3L370.8,738.4L371.6,735.5L372.3,732.6L373.1,729.6L373.9,726.7L374.7,723.8L375.4,720.9L376.2,718.0L377.0,715.1L377.8,712.2L378.5,709.3L379.3,706.4L380.1,703.5L380.9,700.6L381.7,697.7L382.4,694.8L383.2,691.9L384.0,689.0L384.8,686.1L385.6,683.2L386.3,680.3L387.1,677.4L387.9,674.5L388.7,671.6L389.5,668.7L390.3,665.8L391.1,662.9L391.8,660.0L392.6,657.1L393.4,654.3L394.2,651.4L395.0,648.5L395.8,645.6L396.6,642.7L397.4,639.8L398.2,636.9L399.0,634.0L399.7,631.1L400.5,628.2L401.3,625.3L402.1,622.4L402.9,619.5L403.7,616.6L404.5,613.7L405.3,610.8L406.1,607.9L406.9,605.0L407.7,602.1L408.5,599.2L409.3,596.3L410.1,593.4L410.9,590.5L411.7,587.7L412.5,584.8L413.3,581.9L414.1,579.0L414.9,576.1L415.7,573.2L416.5,570.3L417.4,567.4L418.2,564.5L419.0,561.6L419.8,558.7L420.6,555.8L421.4,552.9L422.2,550.1L423.0,547.2L423.8,544.3L424.7,541.4L425.5,538.5L426.3,535.6L427.1,532.7L427.9,529.8L428.7,526.9L429.5,524.0L430.4,521.2L431.2,518.3L432.0,515.4L432.8,512.5L433.6,509.6L434.5,506.7L435.3,503.8L436.1,500.9L436.9,498.1L437.8,495.2L438.6,492.3L439.4,489.4L440.2,486.5L441.1,483.6L441.9,480.7L442.7,477.9L443.6,475.0L444.4,472.1L445.2,469.2L446.1,466.3L446.9,463.4L447.7,460.5L448.6,457.7L449.4,454.8L450.2,451.9L451.1,449.0L451.9,446.1L452.8,443.3L453.6,440.4L454.4,437.5L455.3,434.6L456.1,431.7L457.0,428.8L457.8,426.0L458.7,423.1L459.5,420.2L460.4,417.3L461.2,414.4L462.1,411.6L462.9,408.7L463.8,405.8L464.6,402.9L465.5,400.1L466.3,397.2L467.2,394.3L468.0,391.4L468.9,388.5L469.7,385.7L470.6,382.8L471.4,379.9L472.3,377.0L473.2,374.2L474.0,371.3L474.9,368.4L475.8,365.5L476.6,362.7L477.5,359.8L478.4,356.9L479.2,354.0L480.1,351.2L481.0,348.3L481.8,345.4L482.7,342.5L483.6,339.7L484.4,336.8L485.3,333.9L486.2,331.1L487.1,328.2L487.9,325.3L488.8,322.4L489.7,319.6L490.6,316.7L491.5,313.8L492.3,311.0L493.2,308.1L494.1,305.2L495.0,302.4L497.3,300.0L500.5,287.6L509.2,262.7L517.8,246.5L525.4,227.0L533.0,220.5L539.5,203.2L545.6,186.0L548.5,186.0L553.0,190.5L558.9,211.9L562.2,214.0L568.6,214.0L571.9,227.0L577.3,234.6L580.5,246.5L581.3,249.5L581.4,252.5L581.5,255.5L581.6,258.5L581.7,261.5L581.8,264.5L581.9,267.5L582.0,270.5L582.0,273.5L582.1,276.5L582.2,279.5L582.3,282.5L582.4,285.5L582.4,288.5L582.5,291.5L582.6,294.5L582.7,297.5L582.7,300.5L582.8,303.5L582.9,306.5L582.9,309.6L583.0,312.6L583.1,315.6L583.1,318.6L583.2,321.6L583.2,324.6L583.3,327.6L583.4,330.6L583.4,333.6L583.5,336.6L583.5,339.6L583.6,342.6L583.6,345.6L583.7,348.6L583.7,351.6L583.8,354.6L583.8,357.6L583.9,360.6L583.9,363.6L584.0,366.6L584.0,369.6L584.1,372.6L584.1,375.7L584.1,378.7L584.2,381.7L584.2,384.7L584.3,387.7L584.3,390.7L584.3,393.7L584.4,396.7L584.4,399.7L584.5,402.7L584.5,405.7L584.5,408.7L584.6,411.7L584.6,414.7L584.6,417.7L584.7,420.7L584.7,423.7L584.7,426.7L584.8,429.8L584.8,432.8L584.8,435.8L584.8,438.8L584.9,441.8L584.9,444.8L584.9,447.8L585.0,450.8L585.0,453.8L585.0,456.8L585.0,459.8L585.1,462.8L585.1,465.8L585.1,468.8L585.2,471.8L585.2,474.8L585.2,477.8L585.2,480.8L585.3,483.9L585.3,486.9L585.3,489.9L585.3,492.9L585.4,495.9L585.4,498.9L585.4,501.9L585.5,504.9L585.5,507.9L585.5,510.9L585.5,513.9L585.6,516.9L585.6,519.9L585.6,522.9L585.7,525.9L585.7,528.9L585.7,532.0L585.7,535.0L585.8,538.0L585.8,541.0L585.8,544.0L585.9,547.0L585.9,550.0L585.9,553.0L586.0,556.0L586.0,559.0L586.0,562.0L586.1,565.0L586.1,568.0L586.2,571.0L586.2,574.0L586.2,577.0L586.3,580.0L586.3,583.0L586.3,586.1L586.4,589.1L586.4,592.1L586.5,595.1L586.5,598.1L586.6,601.1L586.6,604.1L586.6,607.1L586.7,610.1L586.7,613.1L586.8,616.1L586.8,619.1L586.9,622.1L586.9,625.1L587.0,628.1L587.1,631.1L587.1,634.1L587.2,637.1L587.2,640.2L587.3,643.2L587.3,646.2L587.4,649.2L587.5,652.2L587.5,655.2L587.6,658.2L587.7,661.2L587.7,664.2L587.8,667.2L587.9,670.2L587.9,673.2L588.0,676.2L588.1,679.2L588.2,682.2L588.2,685.2L588.3,688.2L588.4,691.2L588.5,694.2L588.6,697.2L588.7,700.3L588.7,703.3L588.8,706.3L588.9,709.3L589.0,712.3L589.1,715.3L589.2,718.3L589.3,721.3L589.4,724.3L589.5,727.3L589.6,730.3L589.7,733.3L589.8,736.3L589.9,739.3L590.0,742.3L590.2,745.3L590.3,748.3L590.4,751.3L590.5,754.3L590.6,757.3L590.7,760.3L590.9,763.3L591.0,766.3L591.1,769.3L591.2,772.3L591.4,775.3L591.5,778.4L591.6,781.4L591.8,784.4L591.9,787.4L592.0,790.4L592.2,793.4L592.3,796.4L592.5,799.4L592.6,802.4L592.7,805.4L592.9,808.4L593.0,811.4L593.2,814.4L593.3,817.4L593.5,820.4L593.6,823.4L593.8,826.4L593.9,829.4L594.1,832.4L594.2,835.4L594.4,838.4L594.5,841.4L594.7,844.4L594.8,847.4L595.0,850.4L595.1,853.4L595.3,856.4L595.5,859.4L595.6,862.4L595.8,865.4L595.9,868.4L596.1,871.4L596.3,874.4L596.4,877.4L596.6,880.4L596.8,883.4L596.9,886.4L597.1,889.4L597.2,892.4L597.4,895.4L597.6,898.4L597.7,901.4L597.9,904.4L598.1,907.4L598.2,910.4L598.4,913.4L598.6,916.4L598.7,919.4L598.9,922.4L599.3,925.4L601.4,932.2L613.5,947.0L617.6,968.6L621.6,993.0L623.8,1001.6L626.0,1034.0" stroke="#476731" stroke-width="4.4"/>
<path d="M219.6,1329.0L220.9,1326.3L221.7,1323.4L222.6,1320.5L223.5,1317.7L224.4,1314.8L225.3,1311.9L226.1,1309.0L227.0,1306.1L227.9,1303.2L228.8,1300.3L229.6,1297.5L230.5,1294.6L231.4,1291.7L232.3,1288.8L233.1,1285.9L234.0,1283.0L234.9,1280.1L235.7,1277.3L236.6,1274.4L237.5,1271.5L238.3,1268.6L239.2,1265.7L240.1,1262.8L240.9,1259.9L241.8,1257.1L242.7,1254.2L243.5,1251.3L244.4,1248.4L245.3,1245.5L246.1,1242.6L247.0,1239.7L247.8,1236.9L248.7,1234.0L249.6,1231.1L250.4,1228.2L251.3,1225.3L252.1,1222.4L253.0,1219.5L253.9,1216.7L254.7,1213.8L255.6,1210.9L256.4,1208.0L257.3,1205.1L258.1,1202.2L259.0,1199.3L259.8,1196.5L260.7,1193.6L261.5,1190.7L262.4,1187.8L263.3,1184.9L264.1,1182.0L265.0,1179.1L265.8,1176.3L266.7,1173.4L267.5,1170.5L268.4,1167.6L269.2,1164.7L270.1,1161.8L270.9,1159.0L271.8,1156.1L272.6,1153.2L273.5,1150.3L274.3,1147.4L275.2,1144.5L276.0,1141.6L276.8,1138.8L277.7,1135.9L278.5,1133.0L279.4,1130.1L280.2,1127.2L281.1,1124.3L281.9,1121.4L282.8,1118.6L283.6,1115.7L284.5,1112.8L285.3,1109.9L286.1,1107.0L287.0,1104.1L287.8,1101.3L288.7,1098.4L289.5,1095.5L290.4,1092.6L291.2,1089.7L292.1,1086.8L292.9,1083.9L293.7,1081.1L294.6,1078.2L295.4,1075.3L296.3,1072.4L297.1,1069.5L298.0,1066.6L298.8,1063.8L299.6,1060.9L300.5,1058.0L301.3,1055.1L302.2,1052.2L303.0,1049.3L303.9,1046.5L304.7,1043.6L305.5,1040.7L306.4,1037.8L307.2,1034.9L308.1,1032.0L308.9,1029.2L309.7,1026.3L310.6,1023.4L311.4,1020.5L312.3,1017.6L313.1,1014.7L314.0,1011.8L314.8,1009.0L315.6,1006.1L316.5,1003.2L317.3,1000.3L318.2,997.4L319.0,994.5L319.9,991.7L320.7,988.8L321.5,985.9L322.4,983.0L323.2,980.1L324.1,977.2L324.9,974.4L325.8,971.5L326.6,968.6L327.5,965.7L328.3,962.8L329.1,960.0L330.0,957.1L330.8,954.2L331.7,951.3L332.5,948.4L333.4,945.5L334.2,942.7L335.1,939.8L335.9,936.9L336.8,934.0L337.6,931.1L338.5,928.2L339.3,925.4L340.2,922.5L341.0,919.6L341.9,916.7L342.7,913.8L343.6,910.9L344.4,908.1L345.3,905.2L346.1,902.3L347.0,899.4L347.8,896.5L348.7,893.7L349.5,890.8L350.4,887.9L351.2,885.0L352.1,882.1L352.9,879.2L353.8,876.4L354.6,873.5L355.5,870.6L356.4,867.7L357.2,864.8L358.1,862.0L358.9,859.1L359.8,856.2L360.6,853.3L361.5,850.4L362.4,847.5L363.2,844.7L364.1,841.8L364.9,838.9L365.8,836.0L366.7,833.1L367.5,830.3L368.4,827.4L369.3,824.5L370.1,821.6L371.0,818.7L371.8,815.9L372.7,813.0L373.6,810.1L374.4,807.2L375.3,804.3L376.2,801.4L377.1,798.6L377.9,795.7L378.8,792.8L379.7,789.9L380.5,787.0L381.4,784.2L382.3,781.3L383.2,778.4L384.0,775.5L384.9,772.6L385.8,769.8L386.7,766.9L387.5,764.0L388.4,761.1L389.3,758.2L390.2,755.4L391.1,752.5L391.9,749.6L392.8,746.7L393.7,743.8L394.6,741.0L395.5,738.1L396.4,735.2L397.3,732.3L398.1,729.4L399.0,726.6L399.9,723.7L400.8,720.8L401.7,717.9L402.6,715.0L403.5,712.2L404.4,709.3L405.3,706.4L406.2,703.5L407.1,700.6L408.0,697.8L408.9,694.9L409.8,692.0L410.7,689.1L411.6,686.3L412.5,683.4L413.4,680.5L414.3,677.6L415.2,674.7L416.1,671.9L417.0,669.0L417.9,666.1L418.8,663.2L419.7,660.3L420.6,657.5L421.5,654.6L422.4,651.7L423.4,648.8L424.3,646.0L425.2,643.1L426.1,640.2L427.0,637.3L428.0,634.4L428.9,631.6L429.8,628.7L430.7,625.8L431.7,623.0L432.6,620.1L433.6,617.2L434.5,614.4L435.5,611.5L436.5,608.7L437.5,605.8L438.4,603.0L439.4,600.1L440.4,597.3L441.5,594.5L442.5,591.6L443.5,588.8L444.6,586.0L445.6,583.2L446.7,580.4L447.8,577.6L448.9,574.8L450.0,572.0L451.1,569.2L452.2,566.4L453.4,563.7L454.5,560.9L455.7,558.2L456.9,555.4L458.1,552.7L459.3,550.0L460.6,547.3L461.8,544.6L463.1,541.9L464.4,539.2L465.7,536.5L467.1,533.9L468.4,531.2L469.8,528.6L471.2,525.9L472.6,523.3L474.1,520.7L475.5,518.1L477.0,515.5L478.5,513.0L480.1,510.4L481.6,507.9L483.2,505.3L484.9,502.8L486.5,500.3L488.2,497.9L489.9,495.4L491.7,493.0L493.5,490.6L495.3,488.3L497.2,486.0L499.2,483.7L501.2,481.4L503.2,479.2L505.3,477.0L507.5,474.9L509.7,472.8L512.0,470.7L514.6,469.1L523.8,468.9L534.6,464.4L540.0,451.1L552.0,455.4L549.2,469.5L549.2,472.5L549.2,475.5L549.2,478.5L549.2,481.5L549.2,484.6L549.2,487.6L549.2,490.6L549.2,493.6L549.3,496.6L549.3,499.6L549.3,502.6L549.3,505.6L549.3,508.7L549.3,511.7L549.3,514.7L549.3,517.7L549.3,520.7L549.4,523.7L549.4,526.7L549.4,529.7L549.4,532.8L549.4,535.8L549.4,538.8L549.4,541.8L549.4,544.8L549.5,547.8L549.5,550.8L549.5,553.8L549.5,556.8L549.5,559.9L549.5,562.9L549.5,565.9L549.5,568.9L549.6,571.9L549.6,574.9L549.6,577.9L549.6,580.9L549.6,583.9L549.6,586.9L549.6,589.9L549.7,593.0L549.7,596.0L549.7,599.0L549.7,602.0L549.7,605.0L549.7,608.0L549.7,611.0L549.8,614.0L549.8,617.0L549.8,620.0L549.8,623.0L549.8,626.1L549.8,629.1L549.9,632.1L549.9,635.1L549.9,638.1L549.9,641.1L549.9,644.1L549.9,647.1L550.0,650.1L550.0,653.1L550.0,656.1L550.0,659.1L550.0,662.1L550.0,665.2L550.1,668.2L550.1,671.2L550.1,674.2L550.1,677.2L550.1,680.2L550.2,683.2L550.2,686.2L550.2,689.2L550.2,692.2L550.2,695.2L550.3,698.2L550.3,701.2L550.3,704.3L550.3,707.3L550.3,710.3L550.4,713.3L550.4,716.3L550.4,719.3L550.4,722.3L550.5,725.3L550.5,728.3L550.5,731.3L550.5,734.3L550.5,737.3L550.6,740.4L550.6,743.4L550.6,746.4L550.6,749.4L550.7,752.4L550.7,755.4L550.7,758.4L550.8,761.4L550.8,764.4L550.8,767.4L550.8,770.4L550.9,773.5L550.9,776.5L550.9,779.5L550.9,782.5L551.0,785.5L551.0,788.5L551.0,791.5L551.1,794.5L551.1,797.5L551.1,800.5L551.2,803.5L551.2,806.6L551.2,809.6L551.2,812.6L551.3,815.6L551.3,818.6L551.3,821.6L551.4,824.6L551.4,827.6L551.4,830.6L551.5,833.7L551.5,836.7L551.5,839.7L551.6,842.7L551.6,845.7L551.6,848.7L551.7,851.7L551.7,854.7L551.8,857.7L551.8,860.8L551.8,863.8L551.9,866.8L551.9,869.8L552.0,872.8L552.0,875.8L552.0,878.8L552.1,881.9L552.1,884.9L552.2,887.9L552.2,890.9L552.2,893.9L552.3,896.9L552.3,899.9L552.4,903.0L552.4,906.0L552.4,909.0L552.5,912.0L552.5,915.0L552.6,918.0L552.6,921.1L552.7,924.1L552.7,927.1L552.8,930.1L552.8,933.1L552.9,936.1L552.9,939.2L553.0,942.2L553.0,945.2L553.1,948.2L553.1,951.2L553.2,954.2L553.2,957.3L553.3,960.3L553.3,963.3L553.4,966.3L553.4,969.3L553.5,972.4L553.6,975.4L553.7,978.4L553.8,981.4L554.0,984.4L554.2,987.4L554.4,990.3L554.7,993.3L555.0,996.3L555.3,999.2L555.7,1002.2L556.2,1005.1L556.7,1008.0L557.2,1010.9L557.9,1013.8L558.6,1016.7L559.3,1019.6L560.2,1022.4L561.1,1025.2L562.1,1028.0L563.1,1030.8L564.3,1033.6L565.6,1036.3L566.9,1039.1L568.4,1041.8L569.9,1044.5L571.4,1047.1L572.8,1049.9L574.2,1052.6L575.3,1055.4L576.3,1058.2L577.2,1061.0L577.9,1063.9L578.5,1066.8L579.1,1069.7L579.5,1072.7L580.0,1075.6L580.3,1078.6L580.7,1081.5L581.0,1084.5L581.4,1087.5L581.7,1090.5L582.1,1093.5L582.6,1096.5L583.1,1099.6L583.6,1102.6L584.3,1105.6L585.0,1108.6L585.7,1111.6L586.6,1114.5L587.5,1117.4L588.6,1120.3L589.7,1123.0L590.9,1125.8L592.3,1128.4L593.7,1131.0L595.3,1133.5L597.0,1135.9L598.8,1138.2L600.7,1140.4L602.8,1142.5L605.0,1144.4L607.7,1146.0" stroke="#1b5b06" stroke-width="6.2" stroke-dasharray="6.2 8.45"/>
<path d="M502.5,302.0L501.8,304.9L501.0,307.8L500.1,310.7L499.2,313.5L498.4,316.4L497.5,319.3L496.6,322.2L495.8,325.0L494.9,327.9L494.1,330.8L493.2,333.7L492.4,336.5L491.5,339.4L490.7,342.3L489.8,345.2L489.0,348.1L488.1,350.9L487.3,353.8L486.4,356.7L485.6,359.6L484.7,362.5L483.9,365.3L483.1,368.2L482.2,371.1L481.4,374.0L480.6,376.9L479.7,379.8L478.9,382.6L478.1,385.5L477.2,388.4L476.4,391.3L475.6,394.2L474.7,397.1L473.9,399.9L473.1,402.8L472.3,405.7L471.5,408.6L470.6,411.5L469.8,414.4L469.0,417.3L468.2,420.2L467.4,423.0L466.6,425.9L465.8,428.8L464.9,431.7L464.1,434.6L463.3,437.5L462.5,440.4L461.7,443.3L460.9,446.2L460.1,449.1L459.3,451.9L458.5,454.8L457.7,457.7L456.9,460.6L456.1,463.5L455.3,466.4L454.5,469.3L453.7,472.2L452.9,475.1L452.1,478.0L451.3,480.9L450.5,483.8L449.7,486.7L449.0,489.6L448.2,492.5L447.4,495.4L446.6,498.3L445.8,501.1L445.0,504.0L444.2,506.9L443.5,509.8L442.7,512.7L441.9,515.6L441.1,518.5L440.3,521.4L439.5,524.3L438.8,527.2L438.0,530.1L437.2,533.0L436.4,535.9L435.7,538.8L434.9,541.7L434.1,544.6L433.3,547.5L432.6,550.4L431.8,553.3L431.0,556.2L430.3,559.1L429.5,562.0L428.7,564.9L428.0,567.8L427.2,570.7L426.4,573.6L425.7,576.5L424.9,579.4L424.1,582.3L423.4,585.2L422.6,588.1L421.8,591.0L421.1,593.9L420.3,596.8L419.6,599.8L418.8,602.7L418.0,605.6L417.3,608.5L416.5,611.4L415.8,614.3L415.0,617.2L414.2,620.1L413.5,623.0L412.7,625.9L412.0,628.8L411.2,631.7L410.5,634.6L409.7,637.5L409.0,640.4L408.2,643.3L407.5,646.2L406.7,649.1L406.0,652.0L405.2,654.9L404.5,657.8L403.7,660.8L403.0,663.7L402.2,666.6L401.5,669.5L400.7,672.4L400.0,675.3L399.2,678.2L398.5,681.1L397.7,684.0L397.0,686.9L396.2,689.8L395.5,692.7L394.7,695.6L394.0,698.5L393.2,701.4L392.5,704.4L391.7,707.3L391.0,710.2L390.2,713.1L389.5,716.0L388.8,718.9L388.0,721.8L387.3,724.7L386.5,727.6L385.8,730.5L385.0,733.4L384.3,736.3L383.5,739.2L382.8,742.1L382.1,745.1L381.3,748.0L380.6,750.9L379.8,753.8L379.1,756.7L378.3,759.6L377.6,762.5L376.8,765.4L376.1,768.3L375.4,771.2L374.6,774.1L373.9,777.0L373.1,780.0L372.4,782.9L371.6,785.8L370.9,788.7L370.2,791.6L369.4,794.5L368.7,797.4L367.9,800.3L367.2,803.2L366.4,806.1L365.7,809.0L364.9,811.9L364.2,814.8L363.5,817.8L362.7,820.7L362.0,823.6L361.2,826.5L360.5,829.4L359.7,832.3L359.0,835.2L358.2,838.1L357.5,841.0L356.7,843.9L356.0,846.8L355.2,849.7L354.5,852.6L353.8,855.5L353.0,858.4L352.3,861.4L351.5,864.3L350.8,867.2L350.0,870.1L349.3,873.0L348.5,875.9L347.8,878.8L347.0,881.7L346.3,884.6L345.5,887.5L344.7,890.4L344.0,893.3L343.2,896.2L342.5,899.1L341.7,902.0L341.0,904.9L340.2,907.8L339.5,910.7L338.7,913.7L338.0,916.6L337.2,919.5L336.4,922.4L335.7,925.3L334.9,928.2L334.2,931.1L333.4,934.0L332.7,936.9L331.9,939.8L331.1,942.7L330.4,945.6L329.6,948.5L328.8,951.4L328.1,954.3L327.3,957.2L326.5,960.1L325.8,963.0L325.0,965.9L324.3,968.8L323.5,971.7L322.7,974.6L321.9,977.5L321.2,980.4L320.4,983.3L319.6,986.2L318.9,989.1L318.1,992.0L317.3,994.9L316.5,997.8L315.8,1000.7L315.0,1003.6L314.2,1006.5L313.4,1009.4L312.7,1012.3L311.9,1015.2L311.1,1018.1L310.3,1021.0L309.5,1023.9L308.8,1026.8L308.0,1029.7L307.2,1032.6L306.4,1035.5L305.6,1038.4L304.8,1041.3L304.0,1044.2L303.3,1047.1L302.5,1050.0L301.7,1052.8L300.9,1055.7L300.1,1058.6L299.3,1061.5L298.5,1064.4L297.7,1067.3L296.9,1070.2L296.1,1073.1L295.3,1076.0L294.5,1078.9L293.7,1081.8L292.9,1084.7L292.1,1087.6L291.3,1090.5L290.5,1093.3L289.7,1096.2L288.9,1099.1L288.1,1102.0L287.3,1104.9L286.4,1107.8L285.6,1110.7L284.8,1113.6L284.0,1116.5L283.2,1119.3L282.4,1122.2L281.6,1125.1L280.7,1128.0L279.9,1130.9L279.1,1133.8L278.3,1136.7L277.5,1139.5L276.6,1142.4L275.8,1145.3L275.0,1148.2L274.1,1151.1L273.3,1154.0L272.5,1156.9L271.6,1159.7L270.8,1162.6L270.0,1165.5L269.1,1168.4L268.3,1171.3L267.5,1174.1L266.6,1177.0L265.8,1179.9L264.9,1182.8L264.1,1185.7L263.2,1188.5L262.4,1191.4L261.5,1194.3L260.7,1197.2L259.8,1200.1L259.0,1202.9L258.1,1205.8L257.3,1208.7L256.4,1211.6L255.5,1214.4L254.7,1217.3L253.8,1220.2L253.0,1223.1L252.1,1225.9L251.2,1228.8L250.3,1231.7L249.5,1234.5L248.6,1237.4L247.7,1240.3L246.9,1243.2L246.0,1246.0L245.1,1248.9L244.2,1251.8L243.3,1254.6L242.4,1257.5L241.6,1260.4L240.7,1263.2L239.8,1266.1L238.9,1269.0L238.0,1271.8L237.1,1274.7L236.2,1277.6L235.3,1280.4L234.4,1283.3L233.5,1286.2L232.6,1289.0L231.7,1291.9L230.8,1294.8L229.9,1297.6L229.0,1300.5L228.1,1303.3L227.1,1306.2L226.2,1309.1L225.3,1311.9L224.4,1314.8L223.5,1317.6L222.5,1320.5L221.6,1323.3L220.7,1326.2L219.6,1329.0" stroke="#2a5b14" stroke-width="4.7" stroke-dasharray="15 15.6" stroke-dashoffset="-7.6"/>
<path d="M510.3,300.5L520,311.4M528.6,313.8L535.1,301.6M539.5,286.5L549.2,275.7M555.7,259.5L563.2,246.5" stroke="#2a5b14" stroke-width="4.2"/>
<path d="M568.5,226.5L572.5,229.0L577.3,235.0L579.6,246.5L579.7,249.5L579.7,252.5L579.8,255.5L579.8,258.5L579.8,261.5L579.9,264.5L579.9,267.5L579.9,270.5L579.9,273.5L580.0,276.5L580.0,279.5L580.0,282.5L580.0,285.5L580.0,288.5L580.1,291.5L580.1,294.5L580.1,297.5L580.1,300.5L580.2,303.5L580.2,306.5L580.2,309.5L580.2,312.5L580.2,315.5L580.3,318.5L580.3,321.5L580.3,324.5L580.3,327.5L580.3,330.5L580.3,333.5L580.4,336.5L580.4,339.5L580.4,342.5L580.4,345.5L580.4,348.5L580.5,351.5L580.5,354.5L580.5,357.5L580.5,360.5L580.5,363.5L580.5,366.5L580.6,369.5L580.6,372.5L580.6,375.5L580.6,378.5L580.6,381.5L580.6,384.5L580.7,387.5L580.7,390.5L580.7,393.5L580.7,396.5L580.7,399.5L580.7,402.5L580.8,405.5L580.8,408.5L580.8,411.5L580.8,414.5L580.8,417.5L580.8,420.5L580.9,423.5L580.9,426.5L580.9,429.5L580.9,432.5L580.9,435.5L580.9,438.5L581.0,441.5L581.0,444.5L581.0,447.5L581.0,450.5L581.0,453.5L581.1,456.5L581.1,459.5L581.1,462.5L581.1,465.5L581.1,468.5L581.2,471.5L581.2,474.5L581.2,477.5L581.2,480.5L581.3,483.5L581.3,486.5L581.3,489.5L581.3,492.5L581.4,495.5L581.4,498.5L581.4,501.5L581.4,504.5L581.5,507.5L581.5,510.5L581.5,513.5L581.5,516.5L581.6,519.5L581.6,522.5L581.6,525.5L581.7,528.5L581.7,531.5L581.7,534.5L581.8,537.5L581.8,540.5L581.8,543.5L581.8,546.5L581.9,549.5L581.9,552.5L582.0,555.5L582.0,558.5L582.0,561.5L582.1,564.5L582.1,567.5L582.1,570.5L582.2,573.5L582.2,576.5L582.3,579.5L582.3,582.5L582.3,585.5L582.4,588.5L582.4,591.5L582.5,594.5L582.5,597.5L582.6,600.5L582.6,603.5L582.7,606.5L582.7,609.5L582.8,612.5L582.8,615.5L582.9,618.5L582.9,621.5L583.0,624.5L583.0,627.5L583.1,630.5L583.1,633.5L583.2,636.5L583.3,639.5L583.3,642.5L583.4,645.5L583.4,648.5L583.5,651.5L583.6,654.5L583.6,657.5L583.7,660.5L583.8,663.5L583.8,666.5L583.9,669.5L584.0,672.5L584.0,675.5L584.1,678.5L584.2,681.5L584.3,684.5L584.3,687.4L584.4,690.4L584.5,693.4L584.6,696.4L584.7,699.4L584.7,702.4L584.8,705.4L584.9,708.4L585.0,711.4L585.1,714.4L585.2,717.4L585.3,720.4L585.3,723.4L585.4,726.4L585.5,729.4L585.6,732.4L585.7,735.4L585.7,738.4L585.7,741.4L585.8,744.5L585.8,747.5L585.7,750.6L585.7,753.6L585.6,756.7L585.5,759.8L585.5,762.9L585.4,766.0L585.5,769.0L585.6,772.1L585.8,775.0L586.1,778.0L586.6,780.9L587.2,783.7L588.0,786.5L589.0,789.2L590.2,791.8L591.6,794.4L593.1,797.0L594.4,799.5L595.5,802.2L596.4,805.0L597.1,807.8L597.6,810.7L597.9,813.7L598.2,816.6L598.5,819.6L598.7,822.6L599.0,825.6L599.2,828.6L599.4,831.6L599.7,834.6L599.9,837.6L600.1,840.6L600.4,843.6L600.6,846.6L600.9,849.6L601.2,852.6L601.4,855.6L601.7,858.6L602.1,861.6L602.4,864.6L602.7,867.6L603.1,870.5L603.4,873.5L603.8,876.5L604.2,879.5L604.5,882.4L604.9,885.4L605.3,888.4L605.7,891.4L606.1,894.3L606.5,897.3L606.9,900.3L607.3,903.2L607.7,906.2L608.1,909.2L608.5,912.1L608.9,915.1L609.3,918.1L609.7,921.1L610.1,924.0L610.5,927.0L610.9,930.0L611.3,933.0L611.7,935.9L612.1,938.9L612.4,941.9L612.8,944.9L613.1,947.9L613.5,950.8L613.8,953.8L614.1,956.8L614.4,959.8L614.7,962.8L614.9,965.8L615.2,968.8L615.4,971.7L615.6,974.7L615.9,977.7L616.0,980.7L616.2,983.7L616.4,986.7L616.5,989.7L616.6,992.7L616.6,995.7L616.8,1016.8L617.6,1031.9L620.0,1047.0L625.5,1061.0L633.0,1071.3L641.8,1086.2" stroke="#2a5b14" stroke-width="5.2" stroke-dasharray="17.6 13.7"/>
<path d="M655.1,1089.2L659.5,1094.6L655,1097.8" stroke="#2a5b14" stroke-width="5.2"/>
<path d="M219.6,1329.0L230.0,1329.0L230.6,1326.0L231.8,1323.2L233.1,1320.5L234.3,1317.7L235.5,1315.0L236.8,1312.2L238.0,1309.5L239.2,1306.7L240.4,1304.0L241.6,1301.2L242.9,1298.4L244.1,1295.7L245.3,1292.9L246.5,1290.2L247.7,1287.4L248.9,1284.6L250.1,1281.9L251.3,1279.1L252.5,1276.3L253.7,1273.5L254.8,1270.8L256.0,1268.0L257.2,1265.2L258.4,1262.5L259.6,1259.7L260.7,1256.9L261.9,1254.1L263.1,1251.3L264.3,1248.6L265.4,1245.8L266.6,1243.0L267.8,1240.2L268.9,1237.4L270.1,1234.6L271.3,1231.9L272.4,1229.1L273.6,1226.3L274.7,1223.5L275.9,1220.7L277.0,1217.9L278.2,1215.1L279.4,1212.4L280.5,1209.6L281.7,1206.8L282.8,1204.0L284.0,1201.2L285.1,1198.4L286.3,1195.6L287.4,1192.8L288.6,1190.0L289.7,1187.2L290.8,1184.4L292.0,1181.6L293.1,1178.9L294.3,1176.1L295.4,1173.3L296.6,1170.5L297.7,1167.7L298.9,1164.9L300.0,1162.1L301.2,1159.3L302.3,1156.5L303.5,1153.7L304.6,1150.9L305.7,1148.1L306.9,1145.3L308.0,1142.5L309.2,1139.8L310.3,1137.0L311.5,1134.2L312.6,1131.4L313.8,1128.6L314.9,1125.8L316.1,1123.0L317.3,1120.2L318.4,1117.4L319.6,1114.6L320.7,1111.9L321.9,1109.1L323.1,1106.3L324.2,1103.5L325.4,1100.7L326.5,1097.9L327.7,1095.2L328.9,1092.4L330.1,1089.6L331.2,1086.8L332.4,1084.0L333.6,1081.3L334.8,1078.5L335.9,1075.7L337.1,1072.9L338.3,1070.1L339.5,1067.4L340.7,1064.6L341.9,1061.8L343.1,1059.1L344.3,1056.3L345.5,1053.5L346.7,1050.8L347.9,1048.0L349.1,1045.2L350.3,1042.5L351.5,1039.7L352.7,1036.9L353.9,1034.2L355.2,1031.4L356.4,1028.7L357.6,1025.9L358.8,1023.2L360.1,1020.4L361.3,1017.7L362.6,1014.9L363.8,1012.2L365.0,1009.4L366.3,1006.7L367.6,1004.0L368.8,1001.2L370.1,998.5L371.3,995.7L372.6,993.0L373.9,990.3L375.2,987.6L376.5,984.8L377.7,982.1L379.0,979.4L380.3,976.7L381.6,973.9L382.9,971.2L384.2,968.5L385.6,965.8L386.9,963.1L388.2,960.4L389.5,957.7L390.9,955.0L392.2,952.3L393.5,949.6L394.9,946.9L396.2,944.2L397.6,941.5L399.0,938.8L400.3,936.1L401.7,933.5L403.1,930.8L404.5,928.1L405.9,925.4L407.3,922.8L408.7,920.1L410.1,917.4L411.5,914.8L412.9,912.1L414.3,909.4L415.7,906.8L417.2,904.1L418.6,901.5L420.1,898.8L421.5,896.2L423.0,893.6L424.5,890.9L425.9,888.3L427.4,885.7L428.9,883.0L430.4,880.4L431.9,877.8L433.4,875.2L434.9,872.6L436.4,869.9L438.0,867.3L439.5,864.7L441.0,862.1L441.9,859.2L454.1,860.5L461.5,852.4L463.5,853.8L465.5,895.7L467.6,890.3L475.7,887.6L483.8,882.8L493.2,884.2L500.0,892.3L506.8,890.9L524.3,876.1L532.4,878.1L548.6,873.4L558.1,872.0L563.5,875.4L565.5,884.9L565.9,928.1L566.5,982.2L567.6,1020.0L568.3,1102.5L582.7,1094.6L568.3,1102.5L568.6,1200.0L583.0,1200.0" stroke="#4460a2" stroke-width="4.4"/>
<path d="M234.0,1329.0L236.0,1326.6L237.4,1324.0L238.9,1321.4L240.3,1318.8L241.8,1316.1L243.2,1313.5L244.7,1310.8L246.1,1308.2L247.5,1305.6L248.9,1302.9L250.4,1300.3L251.8,1297.6L253.2,1295.0L254.6,1292.3L256.0,1289.7L257.4,1287.0L258.8,1284.4L260.2,1281.7L261.6,1279.0L263.0,1276.4L264.4,1273.7L265.8,1271.0L267.2,1268.4L268.6,1265.7L269.9,1263.0L271.3,1260.4L272.7,1257.7L274.1,1255.0L275.5,1252.3L276.8,1249.7L278.2,1247.0L279.6,1244.3L281.0,1241.6L282.3,1238.9L283.7,1236.3L285.1,1233.6L286.4,1230.9L287.8,1228.2L289.2,1225.5L290.5,1222.9L291.9,1220.2L293.3,1217.5L294.6,1214.8L296.0,1212.1L297.4,1209.4L298.7,1206.7L300.1,1204.1L301.5,1201.4L302.8,1198.7L304.2,1196.0L305.6,1193.3L306.9,1190.6L308.3,1187.9L309.7,1185.3L311.0,1182.6L312.4,1179.9L313.8,1177.2L315.1,1174.5L316.5,1171.8L317.9,1169.2L319.3,1166.5L320.6,1163.8L322.0,1161.1L323.4,1158.4L324.8,1155.8L326.2,1153.1L327.5,1150.4L328.9,1147.7L330.3,1145.1L331.7,1142.4L333.1,1139.7L334.5,1137.0L335.9,1134.4L337.3,1131.7L338.7,1129.0L340.1,1126.4L341.5,1123.7L342.9,1121.1L344.4,1118.4L345.8,1115.7L347.2,1113.1L348.6,1110.4L350.0,1107.8L351.5,1105.1L352.9,1102.5L354.4,1099.8L355.8,1097.2L357.2,1094.5L358.7,1091.9L360.2,1089.3L361.6,1086.6L363.1,1084.0L364.5,1081.4L366.0,1078.7L367.5,1076.1L369.0,1073.5L370.5,1070.9L372.0,1068.2L373.4,1065.6L374.9,1063.0L376.5,1060.4L378.0,1057.8L379.5,1055.2L381.0,1052.6L382.5,1050.0L384.1,1047.4L385.6,1044.8L387.1,1042.2L388.7,1039.6L390.3,1037.0L391.8,1034.5L393.4,1031.9L395.0,1029.3L396.5,1026.7L398.1,1024.2L399.7,1021.6L401.3,1019.1L402.9,1016.5L404.6,1014.0L406.2,1011.5L407.8,1008.9L409.5,1006.4L411.2,1003.9L412.9,1001.4L414.6,999.0L416.3,996.5L418.0,994.0L419.7,991.6L421.5,989.2L423.3,986.8L425.1,984.4L426.9,982.0L428.7,979.6L430.6,977.3L432.5,975.0L434.4,972.6L436.3,970.4L438.2,968.1L440.2,965.8L442.2,963.6L444.2,961.4L446.2,959.2L448.3,957.1L450.4,955.0L452.5,952.8L455.7,951.9L457.3,954.5L458.7,957.2L459.9,959.9L461.0,962.6L462.0,965.4L462.9,968.3L463.8,971.2L464.7,974.1L465.6,977.1L466.7,980.2L467.9,983.1L469.3,986.0L470.9,988.5L472.8,990.6L475.1,992.2L477.7,993.1L480.5,993.5L483.4,993.3L486.3,992.5L489.1,991.3L491.8,989.8L494.6,988.2L497.3,986.6L500.0,985.2L502.8,984.1L505.7,983.2L508.5,982.7L511.5,982.3L514.4,982.2L517.5,982.1L520.5,982.2L523.5,982.1L526.5,981.9L529.5,981.5L532.4,980.8L535.3,980.1L538.1,979.2L541.0,978.4L543.9,977.6L546.9,976.8L549.8,976.1L552.8,975.4L555.7,974.8L558.7,974.3L561.7,973.9L564.7,973.6L567.7,973.4L570.7,973.3L573.7,973.4L576.7,973.5L579.6,973.8L582.6,974.1L585.6,974.6L588.5,975.1L591.4,975.8L594.4,976.5L597.3,977.3L600.2,978.1L603.0,979.1L605.9,980.0L608.7,981.1L611.5,982.2L614.3,983.3L617.1,984.5L619.9,985.5L622.7,986.4L625.6,987.1L628.6,987.5L631.6,987.8L634.5,988.0L637.5,988.2L640.4,988.7L643.2,989.4L645.9,990.7L648.4,992.5L650.7,995.0L651.4,1009.2L653.0,1166.0" stroke="#1b4ba0" stroke-width="6.2" stroke-dasharray="6.2 8.45"/>
<path d="M650.6,1172.6L664.8,1172.6" stroke="#1b4ba0" stroke-width="5.0"/>
<path d="M219.6,1329.0L230.0,1329.0L230.4,1325.8L231.7,1323.1L232.9,1320.4L234.1,1317.7L235.4,1315.0L236.6,1312.2L237.8,1309.5L239.0,1306.8L240.3,1304.1L241.5,1301.3L242.7,1298.6L243.9,1295.9L245.1,1293.1L246.3,1290.4L247.6,1287.7L248.8,1284.9L250.0,1282.2L251.2,1279.5L252.4,1276.7L253.6,1274.0L254.8,1271.2L256.0,1268.5L257.2,1265.7L258.4,1263.0L259.6,1260.3L260.8,1257.5L262.0,1254.8L263.2,1252.0L264.4,1249.3L265.6,1246.5L266.8,1243.8L267.9,1241.0L269.1,1238.2L270.3,1235.5L271.5,1232.7L272.7,1230.0L273.9,1227.2L275.1,1224.5L276.3,1221.7L277.5,1219.0L278.7,1216.2L279.8,1213.4L281.0,1210.7L282.2,1207.9L283.4,1205.2L284.6,1202.4L285.8,1199.6L287.0,1196.9L288.2,1194.1L289.4,1191.4L290.5,1188.6L291.7,1185.9L292.9,1183.1L294.1,1180.3L295.3,1177.6L296.5,1174.8L297.7,1172.1L298.9,1169.3L300.1,1166.5L301.3,1163.8L302.5,1161.0L303.7,1158.3L304.9,1155.5L306.1,1152.8L307.3,1150.0L308.5,1147.3L309.7,1144.5L310.9,1141.7L312.1,1139.0L313.4,1136.2L314.6,1133.5L315.8,1130.7L317.0,1128.0L318.2,1125.2L319.4,1122.5L320.7,1119.7L321.9,1117.0L323.1,1114.3L324.4,1111.5L325.6,1108.8L326.8,1106.0L328.1,1103.3L329.3,1100.6L330.5,1097.8L331.8,1095.1L333.0,1092.3L334.3,1089.6L335.5,1086.9L336.8,1084.2L338.1,1081.4L339.3,1078.7L340.6,1076.0L341.9,1073.3L343.1,1070.5L344.4,1067.8L345.7,1065.1L347.0,1062.4L348.2,1059.7L349.5,1056.9L350.8,1054.2L352.1,1051.5L353.4,1048.8L354.7,1046.1L356.0,1043.4L357.3,1040.7L358.7,1038.0L360.0,1035.3L361.3,1032.6L362.6,1029.9L364.0,1027.2L365.3,1024.5L366.6,1021.9L368.0,1019.2L369.3,1016.5L370.7,1013.8L372.0,1011.1L373.4,1008.5L374.8,1005.8L376.1,1003.1L377.5,1000.5L378.9,997.8L380.3,995.2L381.7,992.5L383.1,989.8L384.5,987.2L385.9,984.5L387.3,981.9L388.7,979.3L390.1,976.6L391.6,974.0L393.0,971.3L394.4,968.7L395.9,966.1L397.3,963.5L398.8,960.9L400.3,958.3L401.7,955.7L403.2,953.1L404.7,950.5L406.3,947.9L407.8,945.3L409.3,942.8L410.9,940.2L412.5,937.7L414.1,935.2L415.7,932.7L417.3,930.2L418.9,927.7L420.6,925.2L422.3,922.7L424.0,920.3L425.7,917.9L427.5,915.5L429.2,913.1L431.0,910.7L432.9,908.4L434.7,906.0L436.6,903.7L438.5,901.4L440.4,899.1L442.4,896.9L444.4,894.7L446.4,892.5L448.4,890.3L450.5,888.1L452.6,886.0L454.8,883.9L456.9,881.8L460.0,880.5L466.2,912.5L468.9,915.7L471.5,916.7L474.1,916.0L476.7,914.4L479.3,912.2L482.0,910.0L484.8,908.1L487.6,906.7L490.4,906.0L493.2,906.3L495.8,907.5L498.4,909.2L501.1,910.9L503.8,912.0L506.7,912.0L509.7,911.2L512.7,910.0L515.7,908.9L518.6,908.2L521.3,908.4L523.9,909.6L526.3,911.5L528.7,913.7L531.1,915.9L533.6,917.6L536.3,918.5L539.2,918.3L542.4,916.6L545.9,913.0L546.7,915.9L547.1,918.9L547.4,921.9L547.8,924.9L548.1,927.9L548.3,930.9L548.6,933.9L548.8,936.9L549.0,939.9L549.2,942.9L549.4,945.9L549.5,948.9L549.7,951.9L549.8,955.0L549.9,958.0L550.0,961.0L550.1,964.0L550.1,967.0L550.2,970.0L550.2,973.1L550.2,976.1L550.2,979.1L550.3,982.1L550.3,985.2L550.2,988.2L550.2,991.2L550.2,994.2L550.2,997.3L550.2,1000.3L550.1,1003.3L550.1,1006.4L550.1,1009.4L550.0,1012.4L550.0,1015.4L550.0,1018.5L549.9,1021.5L549.9,1024.5L549.9,1027.6L549.9,1030.6L549.9,1033.6L549.9,1036.6L549.9,1039.7L549.9,1042.7L549.9,1045.7L549.9,1048.7L550.0,1051.8L550.0,1054.8L550.1,1057.8L550.2,1060.8L550.3,1063.8L550.4,1066.9L550.5,1069.9L550.7,1072.9L550.8,1075.9L551.0,1078.9L551.2,1081.9L551.4,1084.9L551.7,1087.9L551.9,1090.9L552.2,1093.9L552.5,1096.9L552.9,1099.9L553.2,1102.9L553.6,1105.9L554.0,1108.9L554.6,1111.9" stroke="#2356a5" stroke-width="5.2" stroke-dasharray="17.6 13.7"/>
</g>
<line x1="879.2" y1="834.6" x2="531" y2="937.9" stroke="#4460a2" stroke-width="4.4"/>
<polygon points="505.5,947 528.4,926.5 535.3,952" fill="#244fa3"/>
<line x1="1710.8" y1="138.4" x2="1790.5" y2="138.4" stroke="#313131" stroke-width="4.800000000000001"/>
<line x1="1709.9" y1="230.3" x2="1790.5" y2="230.3" stroke="#050505" stroke-width="6.2" stroke-dasharray="6.2 8.55"/>
<line x1="1710.2" y1="321.6" x2="1790.5" y2="321.6" stroke="#353535" stroke-width="5.2" stroke-dasharray="17.6 13.7"/>
<line x1="1710.8" y1="412.3" x2="1790.5" y2="412.3" stroke="#476731" stroke-width="4.800000000000001"/>
<line x1="1709.9" y1="504.2" x2="1790.5" y2="504.2" stroke="#1b5b06" stroke-width="6.2" stroke-dasharray="6.2 8.55"/>
<line x1="1710.2" y1="595.5" x2="1790.5" y2="595.5" stroke="#2a5b14" stroke-width="5.2" stroke-dasharray="17.6 13.7"/>
<line x1="1710.8" y1="686.2" x2="1790.5" y2="686.2" stroke="#4460a2" stroke-width="4.800000000000001"/>
<line x1="1709.9" y1="778.1" x2="1790.5" y2="778.1" stroke="#1b4ba0" stroke-width="6.2" stroke-dasharray="6.2 8.55"/>
<line x1="1710.2" y1="869.4" x2="1790.5" y2="869.4" stroke="#2356a5" stroke-width="5.2" stroke-dasharray="17.6 13.7"/>
<g font-family='"Liberation Sans", sans-serif' font-size="100">
<text transform="translate(53.55,102.80) scale(0.6231,0.6261)" font-weight="bold" stroke="#fff" stroke-width="1.0">400</text>
<text transform="translate(53.94,414.80) scale(0.6208,0.6261)" font-weight="bold" stroke="#fff" stroke-width="1.0">300</text>
<text transform="translate(53.92,726.80) scale(0.6209,0.6261)" font-weight="bold" stroke="#fff" stroke-width="1.0">200</text>
<text transform="translate(51.76,1038.80) scale(0.6342,0.6261)" font-weight="bold" stroke="#fff" stroke-width="1.0">100</text>
<text transform="translate(121.24,1350.80) scale(0.6522,0.6261)" font-weight="bold" stroke="#fff" stroke-width="1.0">0</text>
<text transform="translate(200.87,1438.30) scale(0.6652,0.6290)" font-weight="bold" stroke="#fff" stroke-width="1.0">0</text>
<text transform="translate(683.10,1438.95) scale(0.6000,0.6478)" font-weight="bold" stroke="#fff" stroke-width="1.0">4</text>
<text transform="translate(1163.65,1438.30) scale(0.6375,0.6290)" font-weight="bold" stroke="#fff" stroke-width="1.0">8</text>
<text transform="translate(1627.16,1438.94) scale(0.6340,0.6382)" font-weight="bold" stroke="#fff" stroke-width="1.0">12</text>
<text transform="translate(2108.87,1438.30) scale(0.6180,0.6290)" font-weight="bold" stroke="#fff" stroke-width="1.0">16</text>
<text font-weight="bold" stroke="#fff"><tspan x="244.05" y="174.10" font-size="79.62" textLength="48.67" lengthAdjust="spacingAndGlyphs" stroke-width="0.75">σ</tspan> <tspan x="313.30" y="171.20" font-size="78.48" textLength="23.32" lengthAdjust="spacingAndGlyphs" stroke-width="0.74">[</tspan><tspan x="339.62" y="174.10" font-size="81.03" textLength="154.99" lengthAdjust="spacingAndGlyphs" stroke-width="0.78">MPa</tspan><tspan x="502.75" y="171.20" font-size="78.48" textLength="24.12" lengthAdjust="spacingAndGlyphs" stroke-width="0.75">]</tspan></text>
<text font-weight="bold" stroke="#fff"><tspan x="1937.28" y="1305.30" font-size="79.62" textLength="39.36" lengthAdjust="spacingAndGlyphs" stroke-width="0.81">ε</tspan> <tspan x="1998.26" y="1302.27" font-size="80.65" textLength="24.09" lengthAdjust="spacingAndGlyphs" stroke-width="0.76">[</tspan><tspan x="2024.62" y="1305.30" font-size="81.74" textLength="61.71" lengthAdjust="spacingAndGlyphs" stroke-width="0.76">%</tspan><tspan x="2088.13" y="1302.27" font-size="80.65" textLength="24.52" lengthAdjust="spacingAndGlyphs" stroke-width="0.77">]</tspan></text>
<text transform="translate(648.45,269.38) scale(0.5692,0.6203)" fill="#43682c">Glass</text>
<text transform="translate(890.20,813.49) scale(0.6500,0.6053)" fill="#333f55">Hybrid</text>
<text transform="translate(1518.64,1072.69) scale(0.5822,0.6054)" fill="#1a1a1a">Flax</text>
<text transform="translate(1796.94,157.30) scale(0.5372,0.5638)" font-weight="bold" stroke="#fff" stroke-width="1.0">FC-H0D0</text>
<text transform="translate(1797.02,248.60) scale(0.5258,0.5638)" font-weight="bold" stroke="#fff" stroke-width="1.0">FC-H30D0</text>
<text transform="translate(1797.01,339.90) scale(0.5268,0.5638)" font-weight="bold" stroke="#fff" stroke-width="1.0">FC-H30D21</text>
<text transform="translate(1798.08,431.20) scale(0.5231,0.5638)" font-weight="bold" stroke="#fff" stroke-width="1.0">GC-H0D0</text>
<text transform="translate(1798.06,522.50) scale(0.5278,0.5638)" font-weight="bold" stroke="#fff" stroke-width="1.0">GC-H30D0</text>
<text transform="translate(1798.07,613.80) scale(0.5262,0.5638)" font-weight="bold" stroke="#fff" stroke-width="1.0">GC-H30D21</text>
<text transform="translate(1796.98,705.10) scale(0.5318,0.5638)" font-weight="bold" stroke="#fff" stroke-width="1.0">HC-H0D0</text>
<text transform="translate(1796.94,796.40) scale(0.5367,0.5638)" font-weight="bold" stroke="#fff" stroke-width="1.0">HC-H30D0</text>
<text transform="translate(1796.96,887.70) scale(0.5339,0.5638)" font-weight="bold" stroke="#fff" stroke-width="1.0">HC-H30D21</text>
</g>
</svg>
</body></html>
